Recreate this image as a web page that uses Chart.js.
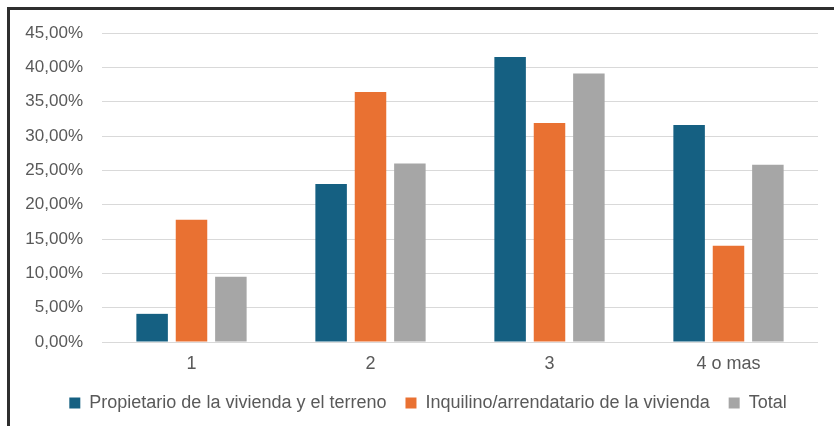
<!DOCTYPE html>
<html>
<head>
<meta charset="utf-8">
<script src="https://cdn.jsdelivr.net/npm/chart.js@4.4.1/dist/chart.umd.min.js"></script>
<style>
  html, body { margin: 0; padding: 0; background: #ffffff; }
  #wrap { position: relative; width: 834px; height: 426px; overflow: hidden; }
  #frame { position: absolute; left: 7px; top: 7px; width: 900px; height: 500px;
           border-top: 3px solid #2e2e2e; border-left: 3px solid #2e2e2e; box-sizing: border-box; }
  canvas { position: absolute; left: 0; top: 0; }
</style>
</head>
<body>
<div id="wrap">
  <div id="frame"></div>
  <canvas id="chart" width="834" height="426"></canvas>
</div>
<script>
// Categorías: número de personas por hogar
const categories = ['1', '2', '3', '4 o mas'];

// Porcentajes por tipo de tenencia
const propietario = [4.1, 23.0, 41.5, 31.6];
const inquilino   = [17.8, 36.4, 31.9, 14.0];
const total       = [9.5, 26.0, 39.1, 25.8];

const seriesNames = [
  'Propietario de la vivienda y el terreno',
  'Inquilino/arrendatario de la vivienda',
  'Total'
];

const fontFamily = 'Arial, "Liberation Sans", sans-serif';
const textColor = '#595959';

const fmt = v => v.toFixed(2).replace('.', ',') + '%';

// Desplaza la leyenda horizontalmente después del cálculo del diseño
const legendShift = {
  id: 'legendShift',
  afterLayout(chart) {
    const lg = chart.legend;
    if (lg) { lg.left += 19; lg.right += 19; }
  }
};

new Chart(document.getElementById('chart'), {
  type: 'bar',
  data: {
    labels: categories,
    datasets: [
      { label: seriesNames[0], data: propietario, backgroundColor: '#156082' },
      { label: seriesNames[1], data: inquilino,   backgroundColor: '#E97132' },
      { label: seriesNames[2], data: total,       backgroundColor: '#A6A6A6' }
    ]
  },
  options: {
    responsive: false,
    animation: false,
    datasets: {
      bar: { categoryPercentage: 0.66, barPercentage: 0.80, borderWidth: 0 }
    },
    layout: { padding: { left: 0, right: 16, top: 33, bottom: 4 } },
    plugins: {
      tooltip: { enabled: false },
      legend: {
        position: 'bottom',
        labels: {
          boxWidth: 11,
          boxHeight: 11,
          padding: 19,
          color: textColor,
          font: { family: fontFamily, size: 18 }
        }
      }
    },
    scales: {
      x: {
        grid: { display: false, drawTicks: false },
        border: { display: false },
        ticks: { color: textColor, padding: 11, font: { family: fontFamily, size: 18 } },
        afterFit: s => { s.height = 33; }
      },
      y: {
        min: 0,
        max: 45,
        grid: { color: '#d9d9d9', lineWidth: 1, drawTicks: false },
        border: { display: false },
        ticks: {
          stepSize: 5,
          padding: 19,
          color: textColor,
          font: { family: fontFamily, size: 17 },
          callback: v => fmt(v)
        },
        afterFit: s => { s.width = 102; }
      }
    }
  },
  plugins: [legendShift]
});
</script>
</body>
</html>
